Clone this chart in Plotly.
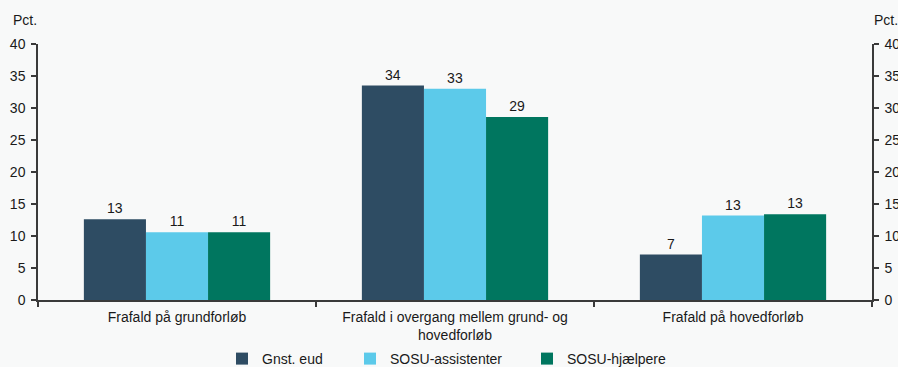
import plotly.graph_objects as go

categories = ["Frafald på grundforløb",
              "Frafald i overgang mellem grund- og<br>hovedforløb",
              "Frafald på hovedforløb"]
series_names = ["Gnst. eud", "SOSU-assistenter", "SOSU-hjælpere"]
gnst_eud = [12.6, 33.5, 7.1]
sosu_assistenter = [10.6, 33.0, 13.2]
sosu_hjaelpere = [10.6, 28.6, 13.4]
y_ticks = [0, 5, 10, 15, 20, 25, 30, 35, 40]

colors = ["#2e4c63", "#5ccaea", "#00765f"]
values = [gnst_eud, sosu_assistenter, sosu_hjaelpere]
legends = ["legend", "legend2", "legend3"]

FONT = "Liberation Sans, Arial, sans-serif"
FS = 14
TXT = "#1a1a1a"
BG = "#f8f9f9"
W, H = 898, 367

fig = go.Figure()
for name, vals, col, lg in zip(series_names, values, colors, legends):
    fig.add_trace(go.Bar(
        x=categories, y=vals, name=name, legend=lg,
        marker=dict(color=col, line=dict(width=0)),
        texttemplate="%{y:.0f}", textposition="outside",
        textfont=dict(size=FS, color=TXT, family=FONT),
        cliponaxis=False,
    ))

axis_color = "#3a3a3a"
legend_common = dict(orientation="h", xref="container", yref="container",
                     yanchor="middle", y=1 - 359 / H, xanchor="left",
                     font=dict(size=FS, color=TXT, family=FONT),
                     bgcolor="rgba(0,0,0,0)", itemwidth=30)

yaxis_common = dict(range=[0, 40], tickvals=y_ticks, showline=True,
                    linecolor=axis_color, linewidth=1.5, ticks="outside",
                    ticklen=5, tickcolor=axis_color, tickwidth=1.5,
                    showgrid=False, zeroline=False, automargin=False,
                    ticklabelstandoff=3,
                    tickfont=dict(size=FS, family=FONT, color=TXT))

fig.update_layout(
    width=W, height=H,
    margin=dict(l=38, r=26, t=44, b=67),
    paper_bgcolor=BG, plot_bgcolor=BG,
    font=dict(family=FONT, size=FS, color=TXT),
    barmode="group", bargap=0.33, bargroupgap=0,
    legend=dict(x=222 / W, **legend_common),
    legend2=dict(x=350 / W, **legend_common),
    legend3=dict(x=527 / W, **legend_common),
    xaxis=dict(showline=True, linecolor=axis_color, linewidth=1.5,
               ticks="outside", tickson="boundaries", ticklen=5,
               tickcolor=axis_color, tickwidth=1.5, showgrid=False,
               automargin=False, ticklabelstandoff=3,
               tickfont=dict(size=FS, family=FONT, color=TXT)),
    yaxis=yaxis_common,
    yaxis2=dict(overlaying="y", side="right", **yaxis_common),
    annotations=[
        dict(text="Pct.", xref="paper", yref="paper", x=0, y=1, xshift=-27,
             yshift=14, xanchor="left", yanchor="bottom", showarrow=False,
             font=dict(size=FS, family=FONT, color=TXT)),
        dict(text="Pct.", xref="paper", yref="paper", x=1, y=1, xshift=0,
             yshift=14, xanchor="left", yanchor="bottom", showarrow=False,
             font=dict(size=FS, family=FONT, color=TXT)),
    ],
)
# invisible trace to activate right axis
fig.add_trace(go.Scatter(x=[categories[0]], y=[0], yaxis="y2", mode="markers",
                         marker=dict(opacity=0), showlegend=False,
                         hoverinfo="skip"))

fig.write_html(
    "out.html",
    config={"displayModeBar": False},
    post_script="document.body.style.margin='0';document.body.style.overflow='hidden';",
)
